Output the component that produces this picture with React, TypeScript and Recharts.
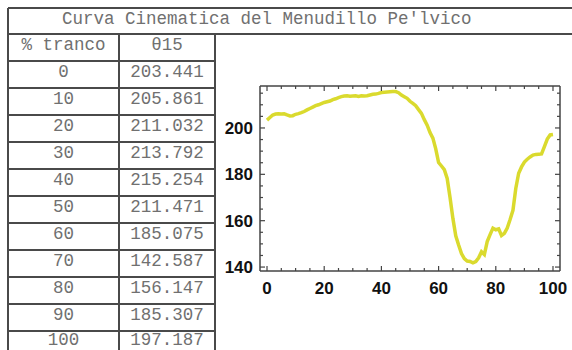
import React from 'react';
import { LineChart, Line, XAxis, YAxis } from 'recharts';

const tableTitle = "Curva Cinematica del Menudillo Pe'lvico";
const columnHeaders = ['% tranco', 'θ15'];
const strideLabels = ['0', '10', '20', '30', '40', '50', '60', '70', '80', '90', '100'];
const thetaLabels = ['203.441', '205.861', '211.032', '213.792', '215.254', '211.471', '185.075', '142.587', '156.147', '185.307', '197.187'];

const curvePercent = [
  0, 1, 2, 3, 4, 5, 6, 7, 8, 9, 10, 11, 12, 13, 14, 15, 16, 17, 18, 19, 20,
  21, 22, 23, 24, 25, 26, 27, 28, 29, 30, 31, 32, 33, 34, 35, 36, 37, 38, 39, 40,
  41, 42, 43, 44, 45, 46, 47, 48, 49, 50, 51, 52, 53, 54, 55, 56, 57, 58, 59, 60,
  61, 62, 63, 64, 65, 66, 67, 68, 69, 70, 71, 72, 73, 74, 75, 76, 77, 78, 79, 80,
  81, 82, 83, 84, 85, 86, 87, 88, 89, 90, 91, 92, 93, 94, 95, 96, 97, 98, 99, 100,
];
const curveTheta = [
  203.4, 204.5, 205.6, 206.0, 206.1, 206.0, 206.1, 205.6, 205.2, 205.3, 205.9,
  206.2, 206.6, 207.1, 207.8, 208.4, 209.0, 209.6, 210.0, 210.5, 211.0,
  211.3, 211.6, 212.2, 212.6, 213.1, 213.5, 213.8, 213.9, 213.7, 213.8,
  213.9, 213.6, 213.9, 213.8, 213.9, 214.2, 214.5, 214.6, 214.9, 215.3,
  215.4, 215.5, 215.6, 215.7, 215.7, 215.2, 214.2, 213.5, 212.8, 211.5,
  210.6, 209.6, 207.9, 206.3, 203.6, 201.2, 198.0, 195.6, 191.0, 185.1,
  183.6, 182.0, 178.2, 170.0, 161.0, 153.5, 149.5, 145.8, 143.6, 142.6,
  142.4, 141.8, 142.4, 144.0, 146.6, 145.4, 151.0, 154.0, 156.8, 156.1,
  156.5, 153.6, 154.5, 156.8, 160.5, 164.5, 174.0, 180.5, 183.2, 185.3,
  186.5, 187.5, 188.3, 188.6, 188.7, 188.8, 192.0, 195.2, 197.0, 197.2,
];

const xMajorTicks = [0, 20, 40, 60, 80, 100];
const xAllTicks = [0, 5, 10, 15, 20, 25, 30, 35, 40, 45, 50, 55, 60, 65, 70, 75, 80, 85, 90, 95, 100];
const yMajorTicks = [140, 160, 180, 200];
const yAllTicks = [140, 145, 150, 155, 160, 165, 170, 175, 180, 185, 190, 195, 200, 205, 210, 215];

const chartData = curvePercent.map((p, i) => ({ pct: p, theta: curveTheta[i] }));

const FRAME = '#444';
const MAJOR_LEN = 5;
const MINOR_LEN = 3;
const BOTTOM_M = 17;
const LEFT_M = 7;
const TOP_M = 4;
const RIGHT_M = 4;
const labelStyle = { fontFamily: '"Liberation Sans", Arial, sans-serif', fontWeight: 700, fontSize: 17, fill: '#111' };

const BottomTick = (props: any) => {
  const { x, y, payload } = props;
  const axisY = y - BOTTOM_M;
  const major = xMajorTicks.includes(payload.value);
  return (
    <g>
      <line x1={x} x2={x} y1={axisY} y2={axisY - (major ? MAJOR_LEN : MINOR_LEN)} stroke={FRAME} strokeWidth={1.2} />
      {major && (
        <text x={x} y={y} dy="0.36em" textAnchor="middle" style={labelStyle as any}>
          {payload.value}
        </text>
      )}
    </g>
  );
};

const TopTick = (props: any) => {
  const { x, y, payload } = props;
  const axisY = y + TOP_M;
  const major = xMajorTicks.includes(payload.value);
  return <line x1={x} x2={x} y1={axisY} y2={axisY + (major ? MAJOR_LEN : MINOR_LEN)} stroke={FRAME} strokeWidth={1.2} />;
};

const LeftTick = (props: any) => {
  const { x, y, payload } = props;
  const axisX = x + LEFT_M;
  const major = yMajorTicks.includes(payload.value);
  return (
    <g>
      <line x1={axisX} x2={axisX + (major ? MAJOR_LEN : MINOR_LEN)} y1={y} y2={y} stroke={FRAME} strokeWidth={1.2} />
      {major && (
        <text x={x} y={y} dy="0.36em" textAnchor="end" style={labelStyle as any}>
          {payload.value}
        </text>
      )}
    </g>
  );
};

const RightTick = (props: any) => {
  const { x, y, payload } = props;
  const axisX = x - RIGHT_M;
  const major = yMajorTicks.includes(payload.value);
  return <line x1={axisX} x2={axisX - (major ? MAJOR_LEN : MINOR_LEN)} y1={y} y2={y} stroke={FRAME} strokeWidth={1.2} />;
};

const LINE_COLOR = '#4a4a4a';
const ROW_TOP = 61;
const ROW_H = 27;

export default function App() {
  const hLines: { y: number; x1: number; x2: number }[] = [
    { y: 8, x1: 8, x2: 572 },
    { y: 34, x1: 8, x2: 572 },
  ];
  for (let i = 0; i <= strideLabels.length; i++) {
    hLines.push({ y: ROW_TOP + i * ROW_H, x1: 8, x2: 216 });
  }
  const vLines = [
    { x: 8, y1: 8, y2: 350 },
    { x: 119, y1: 34, y2: 350 },
    { x: 215, y1: 34, y2: 350 },
  ];
  const cellText: React.CSSProperties = {
    position: 'absolute',
    fontFamily: '"Liberation Mono", "Courier New", monospace',
    fontSize: 17.5,
    color: '#707070',
    textAlign: 'center',
    whiteSpace: 'pre',
    height: 15,
    lineHeight: '15px',
  };
  const off = 4;
  const rowOffset = (i: number) => (i === strideLabels.length - 1 ? off - 2 : off);
  return (
    <div style={{ position: 'absolute', left: 0, top: 0, width: 572, height: 350, overflow: 'hidden', background: '#fff' }}>
      {hLines.map((l, i) => (
        <div key={'h' + i} style={{ position: 'absolute', left: l.x1, top: l.y - 1, width: l.x2 - l.x1, height: 2, background: LINE_COLOR }} />
      ))}
      {vLines.map((l, i) => (
        <div key={'v' + i} style={{ position: 'absolute', left: l.x - 1, top: l.y1, width: 2, height: l.y2 - l.y1, background: LINE_COLOR }} />
      ))}
      <div style={{ ...cellText, left: 62, top: 8 + off, textAlign: 'left' }}>{tableTitle}</div>
      <div style={{ ...cellText, left: 8, top: 34 + off, width: 111 }}>{columnHeaders[0]}</div>
      <div style={{ ...cellText, left: 119, top: 34 + off, width: 96 }}>{columnHeaders[1]}</div>
      {strideLabels.map((s, i) => (
        <React.Fragment key={'r' + i}>
          <div style={{ ...cellText, left: 8, top: ROW_TOP + i * ROW_H + rowOffset(i), width: 111 }}>{s}</div>
          <div style={{ ...cellText, left: 119, top: ROW_TOP + i * ROW_H + rowOffset(i), width: 96 }}>{thetaLabels[i]}</div>
        </React.Fragment>
      ))}
      <div style={{ position: 'absolute', left: 215, top: 70 }}>
        <LineChart width={357} height={241} data={chartData} margin={{ top: 14, right: 11, bottom: 10, left: 5 }}>
          <XAxis
            xAxisId="bottom"
            dataKey="pct"
            type="number"
            orientation="bottom"
            domain={[-2.45, 102.45]}
            allowDataOverflow
            ticks={xAllTicks}
            interval={0}
            height={30}
            tickSize={0}
            tickMargin={BOTTOM_M}
            tick={<BottomTick />}
            axisLine={{ stroke: FRAME, strokeWidth: 1.5 }}
            tickLine={false}
          />
          <XAxis
            xAxisId="top"
            dataKey="pct"
            type="number"
            orientation="top"
            domain={[-2.45, 102.45]}
            allowDataOverflow
            ticks={xAllTicks}
            interval={0}
            height={2}
            tickSize={0}
            tickMargin={TOP_M}
            tick={<TopTick />}
            axisLine={{ stroke: FRAME, strokeWidth: 1.5 }}
            tickLine={false}
          />
          <YAxis
            yAxisId="left"
            type="number"
            orientation="left"
            domain={[138.3, 218.1]}
            allowDataOverflow
            ticks={yAllTicks}
            interval={0}
            width={40}
            tickSize={0}
            tickMargin={LEFT_M}
            tick={<LeftTick />}
            axisLine={{ stroke: FRAME, strokeWidth: 1.5 }}
            tickLine={false}
          />
          <YAxis
            yAxisId="right"
            type="number"
            orientation="right"
            domain={[138.3, 218.1]}
            allowDataOverflow
            ticks={yAllTicks}
            interval={0}
            width={1}
            tickSize={0}
            tickMargin={RIGHT_M}
            tick={<RightTick />}
            axisLine={{ stroke: FRAME, strokeWidth: 1.5 }}
            tickLine={false}
          />
          <Line
            xAxisId="bottom"
            yAxisId="left"
            dataKey="theta"
            type="linear"
            stroke="#dada2e"
            strokeWidth={3.5}
            dot={false}
            isAnimationActive={false}
          />
        </LineChart>
      </div>
    </div>
  );
}
